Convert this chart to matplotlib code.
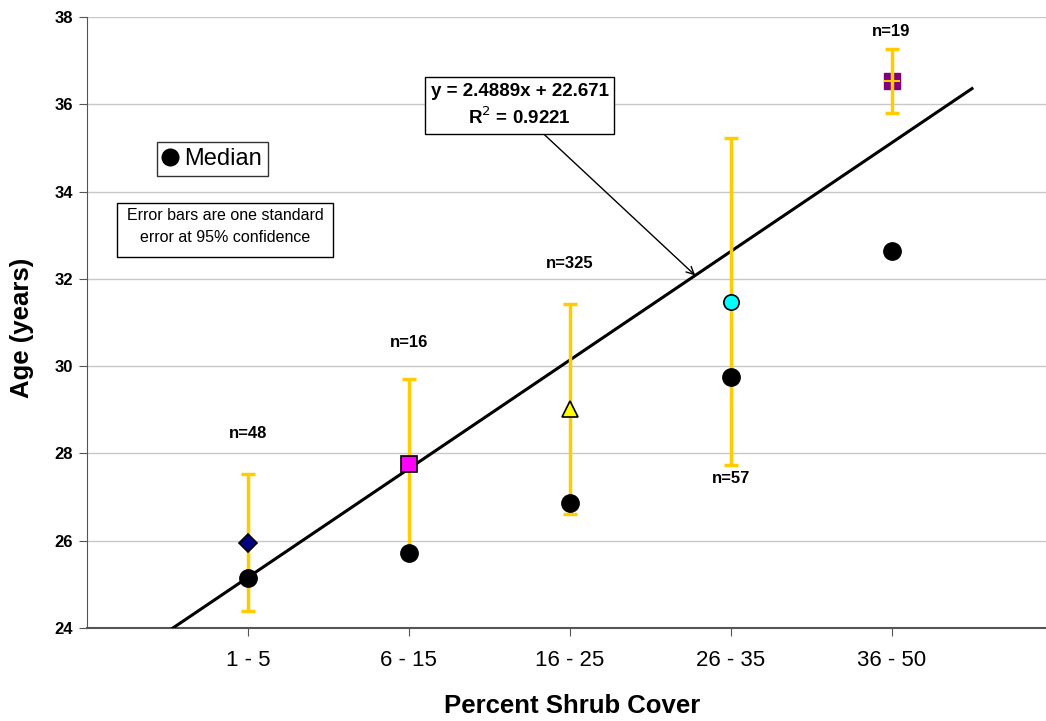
import matplotlib.pyplot as plt
import numpy as np
from matplotlib.lines import Line2D
from matplotlib.patches import Rectangle

plt.rcParams["font.family"] = ["Liberation Sans", "DejaVu Sans"]

categories = ["1 - 5", "6 - 15", "16 - 25", "26 - 35", "36 - 50"]
medians = [25.15, 25.72, 26.87, 29.75, 32.63]
means = [25.95, 27.75, 29.02, 31.48, 36.53]
errors = [1.57, 1.95, 2.41, 3.74, 0.74]
n_labels = ["n=48", "n=16", "n=325", "n=57", "n=19"]
n_label_y = [28.45, 30.54, 32.35, 27.42, 37.67]
markers = ["D", "s", "^", "o", "s"]
colors = ["#000080", "#ff00ff", "#ffff00", "#00ffff", "#800080"]
marker_sizes = [9, 11, 12, 11, 12]

slope, intercept, r2 = 2.4889, 22.671, 0.9221

x = np.arange(1, len(categories) + 1)

fig = plt.figure(figsize=(10.46, 7.21), dpi=100)
ax = fig.add_axes([0.0832, 0.129, 0.9168, 0.8474])

ax.set_xlim(0, 5.96)
ax.set_ylim(24, 38)
ax.set_yticks(np.arange(24, 39, 2))
ax.set_xticks(x)
ax.set_xticklabels(categories, fontsize=16)
for lbl in ax.get_yticklabels():
    lbl.set_fontweight("bold")
    lbl.set_fontsize(12)
ax.tick_params(axis="x", length=6, color="#555555", pad=10)
ax.tick_params(axis="y", length=6, color="#555555", pad=4)
ax.grid(axis="y", color="#c8c8c8", linewidth=1)
ax.set_axisbelow(True)
for side in ["top", "right"]:
    ax.spines[side].set_visible(False)
ax.spines["left"].set_color("#555555")
ax.spines["bottom"].set_color("#555555")
ax.spines["bottom"].set_linewidth(1.5)

# trend line
xs = np.array([0.5, 5.5])
ax.plot(xs, slope * xs + intercept, color="k", linewidth=2.2, zorder=3)

# error bars + mean markers
for i in range(len(x)):
    if i == 4:
        ax.plot(x[i], means[i], marker=markers[i], color=colors[i],
                markersize=marker_sizes[i], linestyle="none", zorder=4)
        ax.errorbar(x[i], means[i], yerr=errors[i], fmt="none", ecolor="#ffcc00",
                    elinewidth=2.5, capsize=5, capthick=2.5, zorder=5)
        ax.plot(x[i], means[i], marker="_", color="#ffcc00", markersize=12,
                markeredgewidth=1.5, zorder=5)
    else:
        ax.errorbar(x[i], means[i], yerr=errors[i], fmt="none", ecolor="#ffcc00",
                    elinewidth=2.5, capsize=5, capthick=2.5, zorder=4)
        ax.plot(x[i], means[i], marker=markers[i], markerfacecolor=colors[i],
                markeredgecolor="k", markeredgewidth=1.2,
                markersize=marker_sizes[i], linestyle="none", zorder=5)

ax.plot(x, medians, "o", color="k", markersize=12.5, zorder=6)

for xi, lab, ly in zip(x, n_labels, n_label_y):
    ax.text(xi, ly, lab, ha="center", va="center", fontsize=12, fontweight="bold")

# legend
handle = Line2D([], [], marker="o", color="k", linestyle="none", markersize=12)
leg = ax.legend([handle], ["Median"], loc="upper left", bbox_to_anchor=(0.073, 0.795),
                frameon=True, fancybox=False, fontsize=17, handlelength=0.6,
                handletextpad=0.3, borderpad=0.25, borderaxespad=0)
leg.get_frame().set_edgecolor("k")
leg.get_frame().set_linewidth(1)

# note box
ax.add_patch(Rectangle((0.0313, 0.607), 0.225, 0.0884, transform=ax.transAxes,
                       facecolor="white", edgecolor="k", linewidth=1, zorder=7))
ax.text(0.1438, 0.657, "Error bars are one standard\nerror at 95% confidence",
        transform=ax.transAxes, ha="center", va="center", multialignment="center",
        fontsize=11.5, linespacing=1.55, zorder=8)

# equation box with arrow
ax.annotate(f"y = {slope}x + {intercept}\nR$^2$ = {r2}",
            xy=(3.78, slope * 3.78 + intercept), xytext=(2.69, 35.97),
            ha="center", va="center", fontsize=13.5, fontweight="bold",
            linespacing=1.4,
            bbox=dict(boxstyle="square,pad=0.3", facecolor="white", edgecolor="k",
                      linewidth=1),
            arrowprops=dict(arrowstyle="->", color="k", linewidth=1,
                            shrinkA=0, shrinkB=0, relpos=(0.6, 0)),
            zorder=7)

fig.text(0.0215, 0.545, "Age (years)", rotation=90, ha="center", va="center",
         fontsize=18.5, fontweight="bold")
fig.text(0.547, 0.021, "Percent Shrub Cover", ha="center", va="center",
         fontsize=18.5, fontweight="bold")

fig.savefig("out.png", dpi=100)
